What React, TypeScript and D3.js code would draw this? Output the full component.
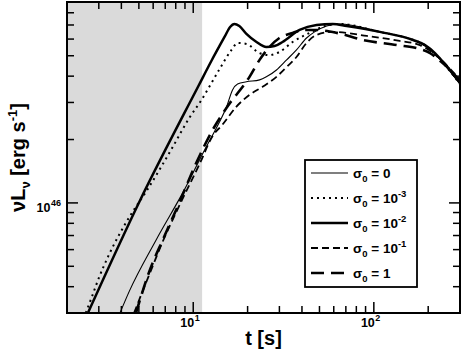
import { useEffect, useRef } from "react";
import * as d3 from "d3";

// time [s] and nu L_nu [erg/s], one pair per sigma_0
const tS0 = [3.93, 4.41, 6.23, 8.91, 11.5, 13.9, 15.3, 16.5, 17.6, 19.7, 23.3, 25.4, 28.9, 32.9, 37.3, 42.4, 47.0, 54.8, 64.7, 108, 165, 192, 218, 255, 300];
const lS0 = [3.0e45, 3.78e45, 6.67e45, 1.15e46, 1.77e46, 2.4e46, 2.86e46, 3.44e46, 3.67e46, 3.76e46, 3.84e46, 3.97e46, 4.28e46, 4.78e46, 5.33e46, 6.07e46, 6.49e46, 6.92e46, 7.08e46, 6.49e46, 5.94e46, 5.56e46, 5.1e46, 4.38e46, 3.67e46];

const tS3 = [2.54, 2.75, 2.97, 3.37, 3.83, 4.58, 5.55, 7.55, 9.5, 11.1, 13.9, 16.3, 17.6, 19.7, 23.3, 26.4, 30.0, 35.5, 44.1, 53.5, 64.7, 108, 165, 192, 218, 255, 300];
const lS3 = [3.0e45, 3.59e45, 4.3e45, 5.54e45, 6.9e45, 8.97e45, 1.15e46, 1.79e46, 2.53e46, 3.08e46, 4.28e46, 5.33e46, 5.75e46, 5.69e46, 5.15e46, 5.04e46, 5.21e46, 5.81e46, 6.42e46, 6.92e46, 7.08e46, 6.49e46, 5.94e46, 5.62e46, 5.1e46, 4.38e46, 3.67e46];

const tS2 = [2.61, 5.08, 10.7, 12.6, 14.9, 16.0, 16.9, 18.0, 19.7, 22.4, 25.4, 28.2, 31.2, 38.8, 48.2, 59.2, 70.8, 108, 165, 192, 218, 255, 300];
const lS2 = [3.0e45, 1.03e46, 3.6e46, 4.72e46, 6.14e46, 6.85e46, 7.08e46, 6.92e46, 6.35e46, 5.81e46, 5.5e46, 5.56e46, 5.81e46, 6.63e46, 7.0e46, 7.08e46, 6.92e46, 6.49e46, 5.94e46, 5.62e46, 5.15e46, 4.42e46, 3.71e46];

const tS1 = [4.7, 5.7, 6.73, 8.36, 10.8, 12.9, 14.5, 17.3, 20.5, 24.2, 28.9, 32.9, 37.3, 42.4, 48.2, 59.2, 91.5, 139, 180, 213, 255, 300];
const lS1 = [3.0e45, 4.55e45, 6.46e45, 9.68e45, 1.52e46, 2.1e46, 2.35e46, 2.86e46, 3.26e46, 3.56e46, 3.97e46, 4.42e46, 4.93e46, 5.75e46, 6.28e46, 6.49e46, 6.21e46, 5.88e46, 5.62e46, 5.15e46, 4.48e46, 3.84e46];

const tSig1 = [4.82, 5.7, 6.9, 8.36, 10.4, 12.8, 15.3, 20.5, 23.3, 26.4, 30.0, 35.5, 41.4, 47.0, 62.3, 86.9, 134, 180, 205, 233, 275, 300];
const lSig1 = [3.0e45, 4.7e45, 6.9e45, 1.0e46, 1.55e46, 2.22e46, 2.83e46, 3.97e46, 4.78e46, 5.5e46, 6.07e46, 6.42e46, 6.63e46, 6.63e46, 6.42e46, 5.94e46, 5.62e46, 5.38e46, 5.15e46, 4.72e46, 4.14e46, 3.76e46];

const sigmaBase = ["0", "10", "10", "10", "1"];
const sigmaExp = ["", "-3", "-2", "-1", ""];

const shadeEnd = 11.2;

const series = [
  { t: tS0, l: lS0, w: 1.1, dash: null },
  { t: tS3, l: lS3, w: 2, dash: "2,4" },
  { t: tS2, l: lS2, w: 2.5, dash: null },
  { t: tS1, l: lS1, w: 1.8, dash: "7,4" },
  { t: tSig1, l: lSig1, w: 2.6, dash: "13,7" },
];

const width = 463;
const height = 358;
const margin = { top: 2, right: 3, bottom: 45, left: 67 };
const font = "'Liberation Sans', Arial, sans-serif";

export default function App() {
  const ref = useRef<SVGSVGElement>(null);

  useEffect(() => {
    const svg = d3.select(ref.current);
    svg.selectAll("*").remove();

    const x = d3.scaleLog().domain([2, 300]).range([margin.left, width - margin.right]);
    const y = d3.scaleLog().domain([3e45, 9e46]).range([height - margin.bottom, margin.top]);
    const [x0, x1] = x.range();
    const [y1, y0] = y.range();

    svg.append("defs").append("clipPath").attr("id", "plot-clip")
      .append("rect").attr("x", x0).attr("y", y0).attr("width", x1 - x0).attr("height", y1 - y0);

    // shaded early-time region
    svg.append("rect")
      .attr("x", x0).attr("y", y0)
      .attr("width", x(shadeEnd) - x0).attr("height", y1 - y0)
      .attr("fill", "#dadada");

    const line = d3.line<[number, number]>()
      .x(d => x(d[0]))
      .y(d => y(d[1]))
      .curve(d3.curveMonotoneX);

    const curves = svg.append("g").attr("clip-path", "url(#plot-clip)");
    series.forEach(s => {
      curves.append("path")
        .datum(s.t.map((t, i) => [t, s.l[i]] as [number, number]))
        .attr("d", line)
        .attr("fill", "none")
        .attr("stroke", "black")
        .attr("stroke-width", s.w)
        .attr("stroke-dasharray", s.dash)
        .attr("stroke-linejoin", "round");
    });

    // ticks on all four sides, pointing inward
    const isMajor = (v: number) => Math.abs(Math.log10(v) - Math.round(Math.log10(v))) < 1e-6;
    const ticks = svg.append("g").attr("stroke", "black").attr("stroke-width", 1.5);
    x.ticks().filter(v => x(v) > x0 + 1 && x(v) < x1 - 1).forEach(v => {
      const len = isMajor(v) ? 11 : 7;
      ticks.append("line").attr("x1", x(v)).attr("x2", x(v)).attr("y1", y1).attr("y2", y1 - len);
      ticks.append("line").attr("x1", x(v)).attr("x2", x(v)).attr("y1", y0).attr("y2", y0 + len);
    });
    y.ticks().filter(v => y(v) > y0 + 1 && y(v) < y1 - 1).forEach(v => {
      const len = isMajor(v) ? 11 : 7;
      ticks.append("line").attr("y1", y(v)).attr("y2", y(v)).attr("x1", x0).attr("x2", x0 + len);
      ticks.append("line").attr("y1", y(v)).attr("y2", y(v)).attr("x1", x1).attr("x2", x1 - len);
    });

    // frame
    svg.append("rect")
      .attr("x", x0).attr("y", y0).attr("width", x1 - x0).attr("height", y1 - y0)
      .attr("fill", "none").attr("stroke", "black").attr("stroke-width", 2);

    // tick labels
    const labels = svg.append("g").attr("font-family", font).attr("font-weight", "bold");
    [10, 100].forEach(v => {
      labels.append("text").attr("x", x(v) + 1).attr("y", 327).attr("text-anchor", "end")
        .attr("font-size", 12.5).text("10");
      labels.append("text").attr("x", x(v) + 1.5).attr("y", 321).attr("font-size", 9)
        .text(String(Math.round(Math.log10(v))));
    });
    labels.append("text").attr("x", 50.5).attr("y", 212).attr("text-anchor", "end")
      .attr("font-size", 12.5).text("10");
    labels.append("text").attr("x", 51).attr("y", 206).attr("font-size", 9).text("46");

    // axis titles
    labels.append("text")
      .attr("x", (x0 + x1) / 2).attr("y", 345)
      .attr("text-anchor", "middle").attr("font-size", 20)
      .text("t [s]");

    const yt = labels.append("text")
      .attr("transform", `translate(25, ${(y0 + y1) / 2}) rotate(-90)`)
      .attr("text-anchor", "middle").attr("font-size", 20);
    yt.append("tspan").text("\u03bdL");
    yt.append("tspan").attr("font-size", 13).attr("dy", 5).text("\u03bd");
    yt.append("tspan").attr("dy", -5).text(" [erg s");
    yt.append("tspan").attr("font-size", 13).attr("dy", -8).text("-1");
    yt.append("tspan").attr("dy", 8).text("]");

    // legend
    const legend = svg.append("g");
    legend.append("rect")
      .attr("x", 305).attr("y", 160).attr("width", 112).attr("height", 127)
      .attr("fill", "white").attr("stroke", "black").attr("stroke-width", 1.8);
    series.forEach((s, i) => {
      const ly = 173 + i * 25;
      legend.append("line")
        .attr("x1", 311).attr("x2", 348).attr("y1", ly).attr("y2", ly)
        .attr("stroke", "black").attr("stroke-width", s.w)
        .attr("stroke-dasharray", s.dash);
      const txt = legend.append("text")
        .attr("x", 353).attr("y", ly + 4.5)
        .attr("font-family", font).attr("font-weight", "bold").attr("font-size", 13.5);
      txt.append("tspan").text("\u03c3");
      txt.append("tspan").attr("font-size", 9.5).attr("dy", 4).text("0");
      txt.append("tspan").attr("dy", -4).text(` = ${sigmaBase[i]}`);
      if (sigmaExp[i]) txt.append("tspan").attr("font-size", 9.5).attr("dy", -6).text(sigmaExp[i]);
    });
  }, []);

  return (
    <svg ref={ref} width={width} height={height}
      style={{ position: "absolute", left: 0, top: 0, background: "white" }} />
  );
}
